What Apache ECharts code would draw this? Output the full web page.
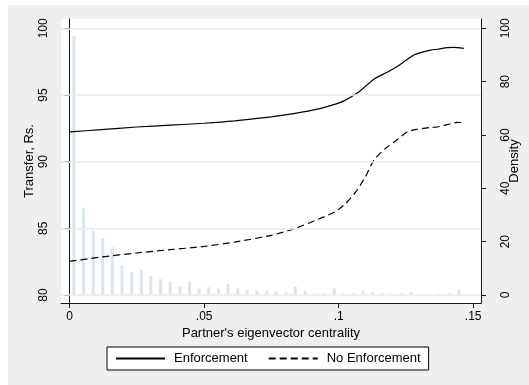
<!DOCTYPE html>
<html>
<head>
<meta charset="utf-8">
<script src="https://cdn.jsdelivr.net/npm/echarts@6/dist/echarts.min.js"></script>
<style>
  html, body { margin: 0; padding: 0; background: #ffffff; }
  #chart { width: 529px; height: 385px; }
</style>
</head>
<body>
<div id="chart"></div>
<script>
// Axis ticks and labels
const xTicks = [0, 0.05, 0.1, 0.15];
const xTickLabels = ['0', '.05', '.1', '.15'];
const transferTicks = [80, 85, 90, 95, 100];
const densityTicks = [0, 20, 40, 60, 80, 100];

// Histogram of partner centrality (bin centres and density)
const binCenters = [0.0016, 0.0052, 0.0088, 0.0123, 0.0159, 0.0195, 0.0231, 0.0267, 0.0302, 0.0338,
  0.0374, 0.0410, 0.0446, 0.0481, 0.0517, 0.0553, 0.0589, 0.0625, 0.0660, 0.0696,
  0.0732, 0.0768, 0.0804, 0.0839, 0.0875, 0.0911, 0.0947, 0.0983, 0.1018, 0.1054,
  0.1090, 0.1126, 0.1162, 0.1197, 0.1233, 0.1269, 0.1305, 0.1341, 0.1376, 0.1412, 0.1448];
const density = [97.0, 32.7, 24.0, 21.3, 17.9, 11.2, 8.5, 9.5, 7.3, 5.9,
  5.0, 3.3, 5.0, 2.5, 2.9, 2.4, 4.1, 2.5, 2.1, 1.6,
  1.6, 1.6, 1.1, 3.1, 1.6, 0.6, 0.6, 2.5, 0.6, 0.6,
  1.6, 1.1, 0.6, 0.6, 0.6, 1.1, 0, 0, 0.6, 0.6, 2.1];

// Predicted transfer, with enforcement
const enfX = [0, 0.0117, 0.0248, 0.0374, 0.0499, 0.0614, 0.0749, 0.0838, 0.0925, 0.0988,
  0.1022, 0.1072, 0.1102, 0.1133, 0.1182, 0.1219, 0.1250, 0.1281, 0.1342, 0.1367,
  0.1404, 0.1428, 0.1465];
const enfY = [92.23, 92.40, 92.60, 92.74, 92.88, 93.06, 93.36, 93.62, 93.96, 94.32,
  94.58, 95.18, 95.70, 96.22, 96.72, 97.15, 97.60, 98.02, 98.37, 98.43,
  98.55, 98.57, 98.50];

// Predicted transfer, without enforcement
const noEnfX = [0, 0.0117, 0.0248, 0.0374, 0.0499, 0.0614, 0.0749, 0.0838, 0.0925, 0.0988,
  0.1025, 0.1062, 0.1100, 0.1131, 0.1175, 0.1222, 0.1256, 0.1290, 0.1342, 0.1367,
  0.1404, 0.1441, 0.1465];
const noEnfY = [82.52, 82.85, 83.15, 83.40, 83.64, 83.97, 84.47, 84.99, 85.69, 86.26,
  86.84, 87.69, 88.88, 90.13, 91.01, 91.72, 92.25, 92.42, 92.57, 92.60,
  92.78, 92.95, 92.93];

const zip = (xs, ys) => xs.map((x, i) => [x, ys[i]]);

const FONT = '"Liberation Sans", Arial, Helvetica, sans-serif';
const AXIS_COLOR = '#1a1a1a';

const chart = echarts.init(document.getElementById('chart'), null, { renderer: 'canvas' });

chart.setOption({
  animation: false,
  color: ['#000000', '#000000', '#000000'],
  textStyle: { fontFamily: FONT },
  graphic: [{
    type: 'rect', left: 8, top: 5, z: -100,
    shape: { width: 521, height: 380 },
    style: { fill: '#efefef' }
  }],
  grid: {
    left: 61, right: 45, top: 19, bottom: 82,
    show: true, backgroundColor: '#ffffff', borderWidth: 0
  },
  legend: {
    left: 107, top: 347,
    padding: [5, 8, 5, 8],
    borderColor: '#000000', borderWidth: 1,
    backgroundColor: '#ffffff',
    itemWidth: 49, itemHeight: 14, itemGap: 20,
    itemStyle: { opacity: 0 },
    textStyle: { fontSize: 13, color: '#000', fontFamily: FONT, padding: [0, 0, 0, 4] },
    data: ['Enforcement', 'No Enforcement']
  },
  xAxis: {
    type: 'value',
    min: -0.0032, max: 0.1529,
    name: "Partner's eigenvector centrality",
    nameLocation: 'middle', nameGap: 24, nameMoveOverlap: false,
    nameTextStyle: { fontSize: 13, color: '#000', fontFamily: FONT },
    axisLine: { show: true, onZero: false, lineStyle: { color: AXIS_COLOR, width: 1 } },
    axisTick: { show: true, length: 5, customValues: xTicks, lineStyle: { color: AXIS_COLOR } },
    axisLabel: {
      customValues: xTicks, margin: 8, fontSize: 12, color: '#000', fontFamily: FONT,
      formatter: v => xTickLabels[xTicks.findIndex(t => Math.abs(t - v) < 1e-9)]
    },
    splitLine: { show: false }
  },
  yAxis: [{
    type: 'value', position: 'left',
    min: 79.40, max: 100.70,
    name: 'Transfer, Rs.',
    nameLocation: 'middle', nameGap: 25, nameRotate: 90, nameMoveOverlap: false,
    nameTextStyle: { fontSize: 13, color: '#000', fontFamily: FONT },
    axisLine: { show: true, lineStyle: { color: AXIS_COLOR, width: 1 } },
    axisTick: { show: true, length: 5, customValues: transferTicks, lineStyle: { color: AXIS_COLOR } },
    axisLabel: { customValues: transferTicks, rotate: 90, margin: 11, fontSize: 12, color: '#000', fontFamily: FONT },
    splitLine: { show: false }
  }, {
    type: 'value', position: 'right',
    min: -3.0, max: 103.5,
    name: 'Density',
    nameLocation: 'middle', nameGap: 27, nameRotate: 90, nameMoveOverlap: false,
    nameTextStyle: { fontSize: 13, color: '#000', fontFamily: FONT },
    axisLine: { show: true, lineStyle: { color: AXIS_COLOR, width: 1 } },
    axisTick: { show: true, length: 5, customValues: densityTicks, lineStyle: { color: AXIS_COLOR } },
    axisLabel: { customValues: densityTicks, rotate: 90, margin: 19, fontSize: 12, color: '#000', fontFamily: FONT },
    splitLine: { show: false }
  }],
  series: [{
    // horizontal grid lines at the transfer ticks
    name: 'grid',
    type: 'line',
    yAxisIndex: 0,
    data: [],
    silent: true,
    z: 0,
    markLine: {
      silent: true,
      symbol: 'none',
      label: { show: false },
      lineStyle: { color: '#ebebeb', width: 1.5, type: 'solid' },
      emphasis: { disabled: true },
      data: transferTicks.map(v => ({ yAxis: v }))
    }
  }, {
    name: 'Density',
    type: 'bar',
    yAxisIndex: 1,
    barWidth: 3,
    itemStyle: { color: '#d9e6ee' },
    data: zip(binCenters, density),
    z: 1
  }, {
    name: 'Enforcement',
    type: 'line',
    yAxisIndex: 0,
    symbol: 'none',
    smooth: 0.2,
    itemStyle: { color: '#000' },
    lineStyle: { color: '#000', width: 1.2, type: 'solid' },
    data: zip(enfX, enfY),
    z: 3
  }, {
    name: 'No Enforcement',
    type: 'line',
    yAxisIndex: 0,
    symbol: 'none',
    smooth: 0.2,
    itemStyle: { color: '#000' },
    lineStyle: { color: '#000', width: 1.2, type: [7, 4] },
    data: zip(noEnfX, noEnfY),
    z: 3
  }]
});
</script>
</body>
</html>
